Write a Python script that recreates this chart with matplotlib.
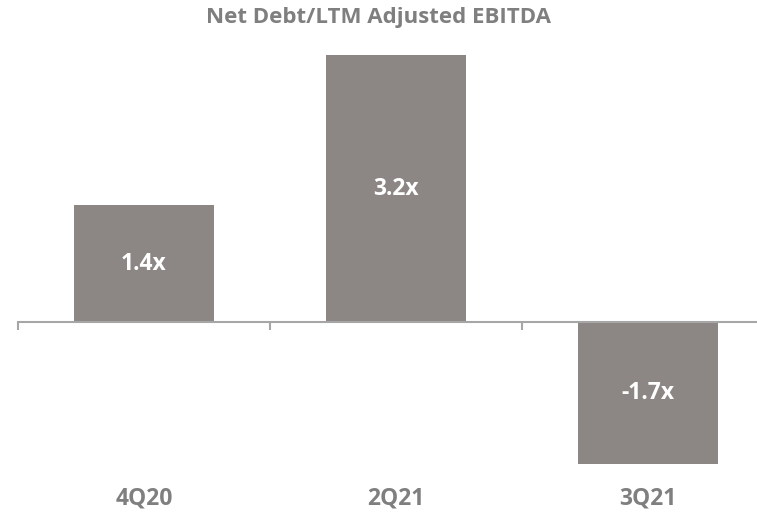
import numpy as np
import matplotlib.pyplot as plt
import matplotlib.transforms as mtransforms

categories = ['4Q20', '2Q21', '3Q21']
values = [1.4, 3.2, -1.7]
labels = ['1.4x', '3.2x', '-1.7x']

bar_color = '#8c8684'
text_gray = '#7f7f7f'
plt.rcParams['font.family'] = ['Open Sans', 'DejaVu Sans']

W, H = 757, 513
fig = plt.figure(figsize=(W / 100, H / 100), dpi=100)
# axes spans pixel x 18..774, y 40..480 (from top); zero line at y=322
ax = fig.add_axes([18 / W, (H - 480) / H, 756 / W, 440 / H])
x = np.arange(len(categories))
ax.bar(x, values, width=0.556, color=bar_color)
ax.set_xlim(-0.5, 2.5)
ppu = 83.3
ax.set_ylim(-(480 - 322) / ppu, (322 - 40) / ppu)

for s in ['top', 'right', 'left']:
    ax.spines[s].set_visible(False)
ax.spines['bottom'].set_position(('data', 0))
ax.spines['bottom'].set_color('#a6a6a6')
ax.spines['bottom'].set_linewidth(1.5)
ax.set_yticks([])
ax.set_xticks(np.arange(-0.5, 3, 1.0))
ax.set_xticklabels([])
ax.tick_params(axis='x', direction='out', length=6, width=1.5, color='#a6a6a6')

for xi, v, lab in zip(x, values, labels):
    ax.text(xi, v / 2, lab, ha='center', va='center', color='white',
            fontsize=16.5, fontweight='bold')

trans = mtransforms.blended_transform_factory(ax.transData, fig.transFigure)
for xi, c in zip(x, categories):
    ax.text(xi, (H - 499) / H, c, transform=trans, ha='center', va='center',
            color=text_gray, fontsize=16.5, fontweight='bold')

fig.text(378 / W, (H - 17) / H, 'Net Debt/LTM Adjusted EBITDA', ha='center',
         va='center', color=text_gray, fontsize=16, fontweight='bold')

fig.savefig('out.png', dpi=100)
